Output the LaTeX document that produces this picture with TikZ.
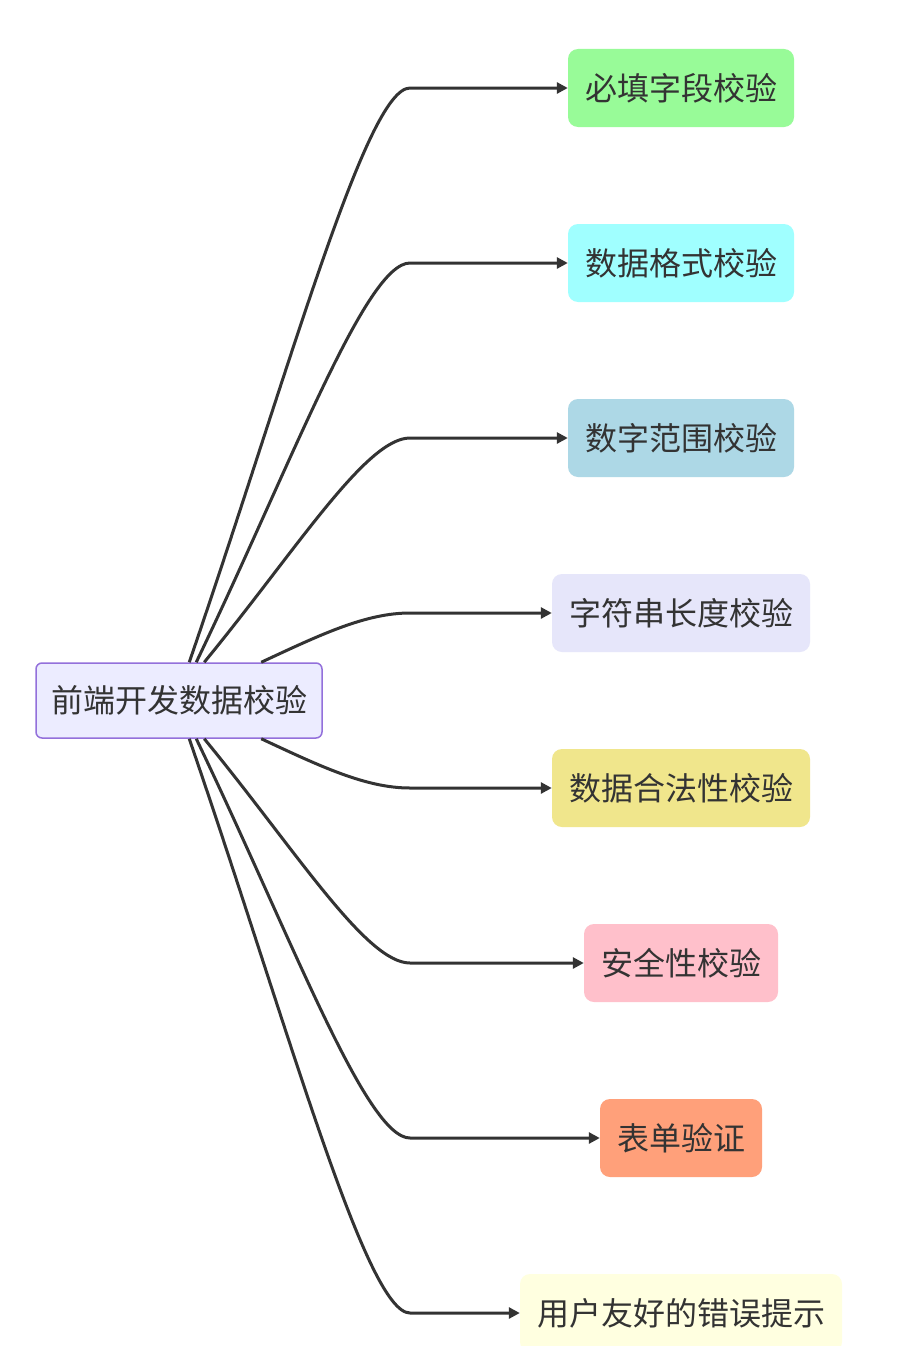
\documentclass[tikz,border=0pt]{standalone}
\usepackage{fontspec}
\setmainfont{Noto Sans CJK SC}
\usepackage{tikz}
\usetikzlibrary{arrows.meta, calc}
\definecolor{MInk}{RGB}{51,51,51}
\definecolor{MRootFill}{RGB}{236,236,255}
\definecolor{MRootLine}{RGB}{147,112,219}
\definecolor{MGreen}{RGB}{152,251,152}
\definecolor{MAqua}{RGB}{160,255,255}
\definecolor{MBlue}{RGB}{173,216,230}
\definecolor{MLavender}{RGB}{230,230,250}
\definecolor{MKhaki}{RGB}{240,230,140}
\definecolor{MPink}{RGB}{255,192,203}
\definecolor{MSalmon}{RGB}{255,160,122}
\definecolor{MYellow}{RGB}{255,255,224}

\begin{document}
\begin{tikzpicture}[x=1pt, y=-1pt,
          leaf/.style={rectangle, rounded corners=10pt, inner xsep=17pt,
                       minimum height=78pt, text=MInk,
                       font=\fontsize{32}{38}\selectfont},
          hub/.style={rectangle, rounded corners=6pt, inner xsep=15pt,
                      minimum height=75pt, text=MInk, draw=MRootLine,
                      line width=1.5pt, fill=MRootFill,
                      font=\fontsize{32}{38}\selectfont},
          arr/.style={-{Triangle[length=11pt, width=11pt]}, line width=3pt,
                      MInk}
        ]
        \useasboundingbox[fill=white] (0,0) rectangle (910,1346);

        % root
        \node[hub] (root) at (179, 700.5) {前端开发数据校验};

        % checks
        \node[leaf, fill=MGreen]    (req)  at (681, 88)   {必填字段校验};
        \node[leaf, fill=MAqua]     (fmt)  at (681, 263)  {数据格式校验};
        \node[leaf, fill=MBlue]     (rng)  at (681, 438)  {数字范围校验};
        \node[leaf, fill=MLavender] (len)  at (681, 613)  {字符串长度校验};
        \node[leaf, fill=MKhaki]    (lgl)  at (681, 788)  {数据合法性校验};
        \node[leaf, fill=MPink]     (sec)  at (681, 963)  {安全性校验};
        \node[leaf, fill=MSalmon]   (form) at (681, 1138) {表单验证};
        \node[leaf, fill=MYellow]   (hint) at (681, 1313) {用户友好的错误提示};

        \coordinate (bend) at (410, 0);

        \foreach \n/\sx/\cx/\cy in {req/154/99/-288, fmt/161/96/-200,
                                   rng/169/92/-112, len/226/60/-28} {
          \draw[arr] ($(root.north west)+(\sx,0)$)
                .. controls +(\cx,\cy) and +(-44,0) .. (\n.west -| bend)
                -- (\n.west);
        }
        \foreach \n/\sx/\cx/\cy in {lgl/226/60/28, sec/169/92/112,
                                   form/161/96/200, hint/154/99/288} {
          \draw[arr] ($(root.south west)+(\sx,0)$)
                .. controls +(\cx,\cy) and +(-44,0) .. (\n.west -| bend)
                -- (\n.west);
        }
      \end{tikzpicture}
\end{document}
